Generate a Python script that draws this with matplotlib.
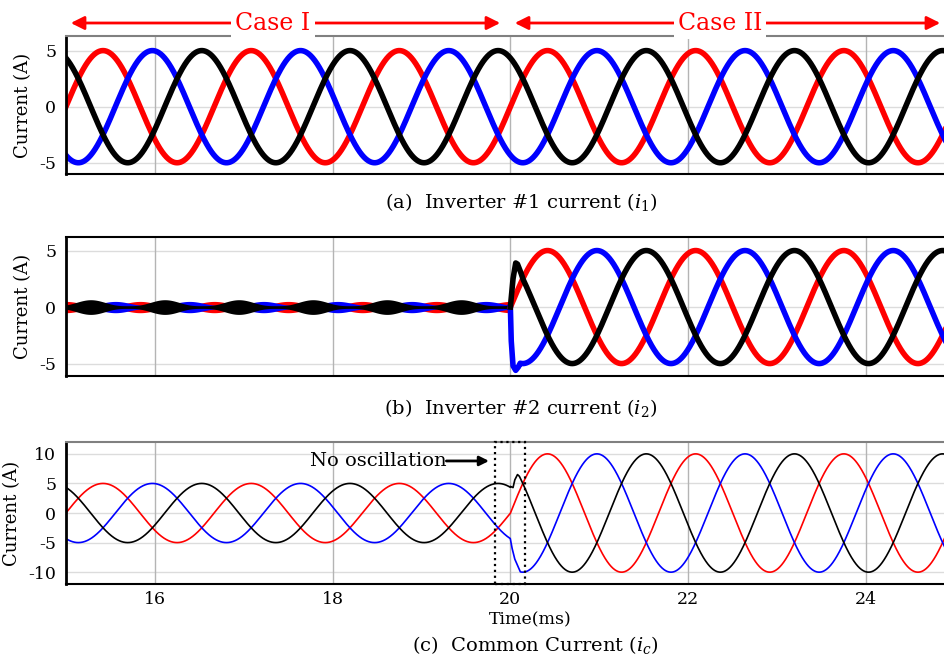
import numpy as np
import matplotlib.pyplot as plt
from matplotlib.patches import Rectangle, FancyArrowPatch

plt.rcParams['font.family'] = ['DejaVu Serif']
plt.rcParams['mathtext.fontset'] = 'custom'
plt.rcParams['mathtext.rm'] = 'DejaVu Serif'
plt.rcParams['mathtext.it'] = 'DejaVu Serif:italic'
plt.rcParams['axes.unicode_minus'] = False

# waveform parameters (time in ms)
period_ms = 1.667
t_start = 15.0
t_switch = 20.0
t_end = 24.89
phase_colors = ['#ff0000', '#0000ff', '#000000']
phase_shift_deg = [0, -120, 120]

# amplitudes: [case I, case II]
amp_i1 = [5.0, 5.0]
amp_i2 = [0.0, 5.0]
amp_ic = [5.0, 10.0]

# inverter #2 ripple band during case I (half width min / max, band phase)
band_min = [0.12, 0.12, 0.12]
band_max = [0.5, 0.5, 0.65]
band_shift_deg = [0, 120, 60]

# switching transients just after t = 20 ms
i2_blue_tr_t = [20.0, 20.01, 20.03, 20.06, 20.09]
i2_blue_tr_v = [0.0, -3.0, -5.2, -5.6, -5.3]
i2_black_tr_t = [20.0, 20.03, 20.06, 20.08, 20.12]
i2_black_tr_v = [0.0, 2.5, 3.9, 3.8, 3.0]
ic_blue_tr_t = [20.0, 20.02, 20.05, 20.09]
ic_blue_tr_v = [-4.4, -6.0, -7.8, -9.2]
ic_black_tr_t = [20.0, 20.03, 20.05, 20.08]
ic_black_tr_v = [4.5, 4.3, 5.6, 6.5]

xticks = [16, 18, 20, 22, 24]

t = np.linspace(t_start, t_end, 6000)


def wave(tt, amp, shift):
    return amp * np.sin(2 * np.pi * (tt - t_start) / period_ms + np.deg2rad(shift))


def two_case(amps, shift, tr_t=None, tr_v=None):
    before = t[t < t_switch]
    v1 = wave(before, amps[0], shift)
    if tr_t is None:
        after = t[t >= t_switch]
        return np.concatenate([before, after]), np.concatenate([v1, wave(after, amps[1], shift)])
    after = t[t > tr_t[-1] + 0.02]
    return (np.concatenate([before, tr_t, after]),
            np.concatenate([v1, tr_v, wave(after, amps[1], shift)]))


def style_axes(ax, ylim, yticks, top_color):
    ax.set_xlim(t_start, t_end)
    ax.set_ylim(*ylim)
    ax.set_yticks(yticks)
    ax.set_yticklabels([str(v) for v in yticks])
    ax.set_xticks(xticks)
    ax.tick_params(length=0, labelsize=12.5, pad=7)
    ax.tick_params(axis='x', pad=5)
    for y in yticks:
        ax.axhline(y, color='#dcdcdc', lw=1, zorder=0)
    for x in xticks:
        ax.axvline(x, color='#b4b4b4', lw=1, zorder=0)
    ax.spines['right'].set_visible(False)
    ax.spines['left'].set_linewidth(2)
    ax.spines['bottom'].set_linewidth(1.5)
    ax.spines['top'].set_color(top_color)
    ax.spines['top'].set_linewidth(1.5)
    ax.set_ylabel('Current (A)', fontsize=13, labelpad=5)


fig = plt.figure(figsize=(9.45, 6.57), dpi=100)
ax1 = fig.add_axes([0.0698, 0.7352, 0.9302, 0.2100])
ax2 = fig.add_axes([0.0698, 0.4277, 0.9302, 0.2116])
ax3 = fig.add_axes([0.0698, 0.1111, 0.9302, 0.2161])

# (a) inverter 1
for c, s in zip(phase_colors, phase_shift_deg):
    xx, yy = two_case(amp_i1, s)
    ax1.plot(xx, yy, color=c, lw=4)
style_axes(ax1, (-6.0, 6.3), [-5, 0, 5], '#808080')
ax1.set_xticklabels([])

# (b) inverter 2
before = t[t < t_switch]
theta = 2 * np.pi * (before - t_start) / period_ms
for c, lo, hi, bs in zip(phase_colors, band_min, band_max, band_shift_deg):
    half = lo + (hi - lo) * np.abs(np.cos(theta - np.deg2rad(bs))) ** 3
    ax2.fill_between(before, -half, half, color=c, lw=0)
tr = {1: (i2_blue_tr_t, i2_blue_tr_v), 2: (i2_black_tr_t, i2_black_tr_v)}
for k, (c, s) in enumerate(zip(phase_colors, phase_shift_deg)):
    if k in tr:
        after = t[t > tr[k][0][-1] + 0.02]
        xx = np.concatenate([tr[k][0], after])
        yy = np.concatenate([tr[k][1], wave(after, amp_i2[1], s)])
    else:
        xx = t[t >= t_switch]
        yy = wave(xx, amp_i2[1], s)
    ax2.plot(xx, yy, color=c, lw=4)
style_axes(ax2, (-6.1, 6.2), [-5, 0, 5], '#000000')
ax2.set_xticklabels([])

# (c) common current
tr = {1: (ic_blue_tr_t, ic_blue_tr_v), 2: (ic_black_tr_t, ic_black_tr_v)}
for k, (c, s) in enumerate(zip(phase_colors, phase_shift_deg)):
    if k in tr:
        xx, yy = two_case(amp_ic, s, tr[k][0], tr[k][1])
    else:
        xx, yy = two_case(amp_ic, s)
    ax3.plot(xx, yy, color=c, lw=1.2)
style_axes(ax3, (-12, 12), [-10, -5, 0, 5, 10], '#808080')
ax3.set_xticklabels([str(v) for v in xticks])
ax3.add_patch(Rectangle((19.83, -12), 0.33, 24, fill=False, ls=':', lw=1.6,
                        ec='black', clip_on=False, zorder=5))
ax3.annotate('', xy=(19.76, 8.8), xytext=(19.28, 8.8),
             arrowprops=dict(arrowstyle='-|>', color='black', lw=2, mutation_scale=14,
                             shrinkA=0, shrinkB=0))
ax3.text(19.28, 8.8, 'No oscillation', ha='right', va='center', fontsize=14)

# case arrows above the first panel
y_arr = 1 - 23 / 657
for x0, x1, label, xc in [(68, 503, 'Case I', 273), (512, 943, 'Case II', 720)]:
    fig.add_artist(FancyArrowPatch(
        (x0 / 945, y_arr), (x1 / 945, y_arr), transform=fig.transFigure,
        arrowstyle='<|-|>', mutation_scale=20, color='#ff0000', lw=2))
    fig.text(xc / 945, y_arr, label, color='#ff0000', fontsize=17, ha='center', va='center',
             bbox=dict(facecolor='white', edgecolor='none', pad=3))

fig.text(521 / 945, 1 - 202 / 657, r'(a)  Inverter #1 current ($\mathit{i}_{\mathrm{1}}$)',
         ha='center', va='center', fontsize=14)
fig.text(521 / 945, 1 - 408 / 657, r'(b)  Inverter #2 current ($\mathit{i}_{\mathrm{2}}$)',
         ha='center', va='center', fontsize=14)
fig.text(535 / 945, 1 - 645 / 657, r'(c)  Common Current ($\mathit{i}_{\mathit{c}}$)',
         ha='center', va='center', fontsize=14)
fig.text(530 / 945, 1 - 620 / 657, 'Time(ms)', ha='center', va='center', fontsize=12.5)

fig.savefig('out.png', dpi=100)
